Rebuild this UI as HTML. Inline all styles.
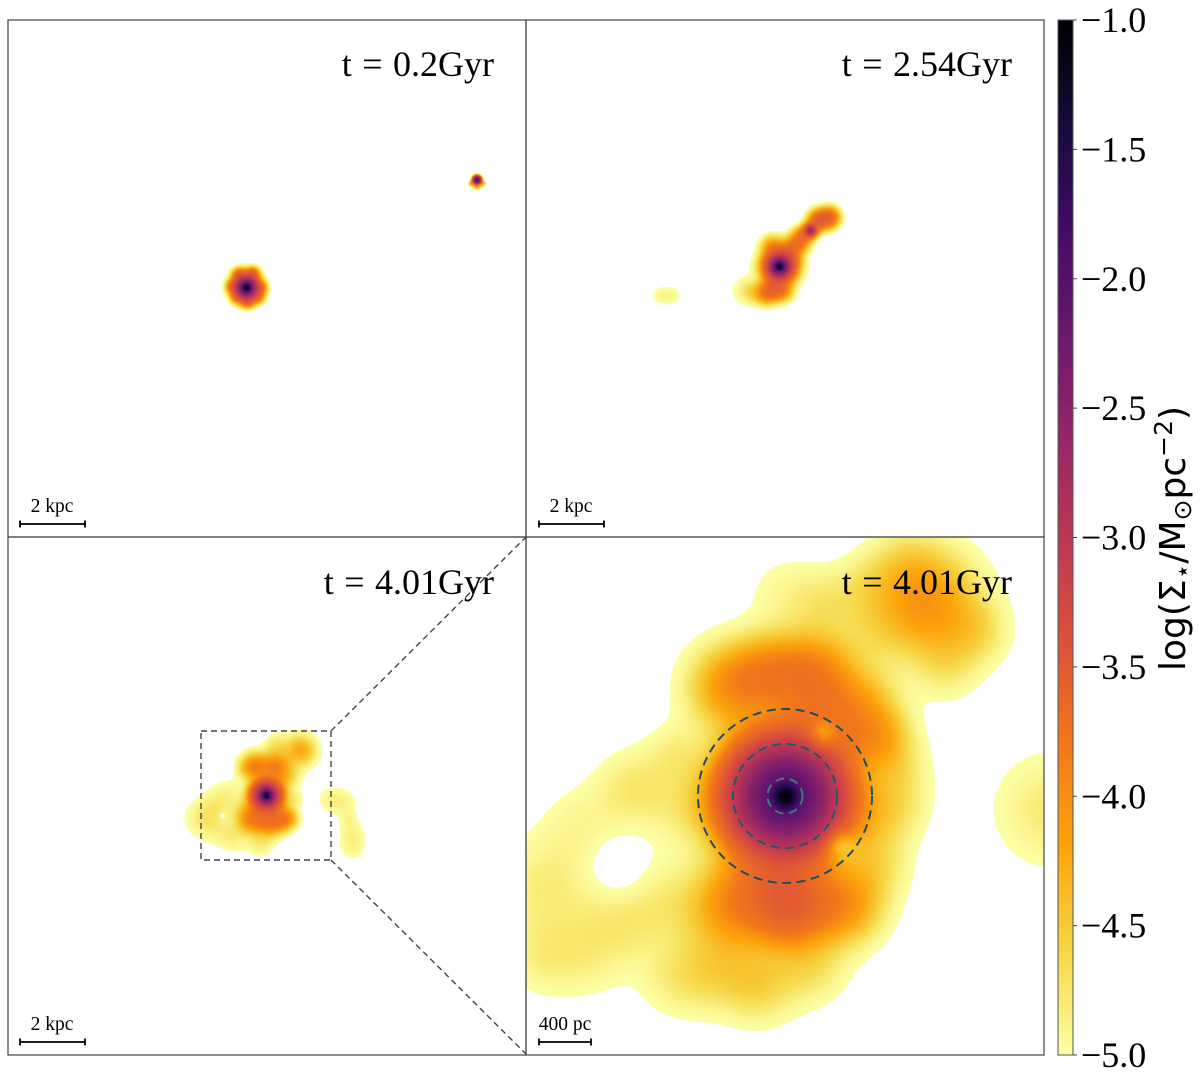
<!DOCTYPE html>
<html lang="en">
<head>
<meta charset="utf-8">
<title>Stellar surface density maps</title>
<style>
html,body{margin:0;padding:0;background:#fff;}
#figure{position:relative;width:1200px;height:1082px;overflow:hidden;background:#fff;}
canvas{position:absolute;display:block;}
svg{position:absolute;left:0;top:0;}
.time{font-family:"Liberation Serif",serif;font-size:36px;word-spacing:1.5px;fill:#000;text-anchor:end;}
.scale{font-family:"Liberation Serif",serif;font-size:19.5px;fill:#000;text-anchor:middle;}
.tick{font-family:"Liberation Serif",serif;font-size:36px;fill:#000;}
.cblabel{font-family:"DejaVu Sans",sans-serif;font-size:36px;fill:#000;}
</style>
</head>
<body>
<div id="figure">
<canvas id="p1" width="518" height="517" style="left:8px;top:20px"></canvas>
<canvas id="p2" width="518" height="517" style="left:526px;top:20px"></canvas>
<canvas id="p3" width="518" height="518" style="left:8px;top:537px"></canvas>
<canvas id="p4" width="518" height="518" style="left:526px;top:537px"></canvas>
<canvas id="cbar" width="15" height="1035" style="left:1058px;top:20px"></canvas>
<svg id="overlay" width="1200" height="1082" viewBox="0 0 1200 1082">
  <g fill="none" stroke="#444" stroke-width="1.2">
    <rect x="8" y="20" width="518" height="517"/>
    <rect x="526" y="20" width="518" height="517"/>
    <rect x="8" y="537" width="518" height="518"/>
    <rect x="526" y="537" width="518" height="518"/>
  </g>
  <g fill="none" stroke="#444" stroke-width="1.4" stroke-dasharray="6 4">
    <rect x="201" y="731" width="130" height="129"/>
    <line x1="331" y1="731" x2="526" y2="537"/>
    <line x1="331" y1="860" x2="526" y2="1054"/>
  </g>
  <g fill="none" stroke-width="2" stroke-dasharray="9 5.5">
    <circle cx="785" cy="796" r="17.5" stroke="#3c7a78"/>
    <circle cx="785" cy="796" r="52" stroke="#24566a"/>
    <circle cx="785" cy="796" r="87" stroke="#1f4d60"/>
  </g>
  <text class="time" x="494" y="76">t = 0.2Gyr</text>
  <text class="time" x="1012" y="76">t = 2.54Gyr</text>
  <text class="time" x="494" y="594">t = 4.01Gyr</text>
  <text class="time" x="1012" y="594">t = 4.01Gyr</text>
  <g>
    <text class="scale" x="52" y="512">2 kpc</text>
    <path d="M20 524H85M20 520.5V527.5M85 520.5V527.5" stroke="#000" stroke-width="1.8" fill="none"/>
  </g>
  <g>
    <text class="scale" x="571" y="512">2 kpc</text>
    <path d="M539 524H604M539 520.5V527.5M604 520.5V527.5" stroke="#000" stroke-width="1.8" fill="none"/>
  </g>
  <g>
    <text class="scale" x="52" y="1030">2 kpc</text>
    <path d="M20 1042H85M20 1038.5V1045.5M85 1038.5V1045.5" stroke="#000" stroke-width="1.8" fill="none"/>
  </g>
  <g>
    <text class="scale" x="565" y="1030">400 pc</text>
    <path d="M539 1042H591M539 1038.5V1045.5M591 1038.5V1045.5" stroke="#000" stroke-width="1.8" fill="none"/>
  </g>
  <rect x="1058" y="20" width="15" height="1035" fill="none" stroke="#555" stroke-width="1"/>
  <g id="cbticks"></g>
  <text class="cblabel" transform="translate(1185 671) rotate(-90)">log(Σ<tspan font-size="25" dy="6">⋆</tspan><tspan dy="-6">/M</tspan><tspan font-size="25" dy="6">⊙</tspan><tspan dy="-6">pc</tspan><tspan font-size="25" dy="-13">−2</tspan><tspan dy="13">)</tspan></text>
</svg>
</div>
<script>
// Colorbar data
const tickValues = [-1.0, -1.5, -2.0, -2.5, -3.0, -3.5, -4.0, -4.5, -5.0];
const vmin = -5;
const vmax = -1;
const cmapStops = ['#000004','#160b39','#420a68','#6a176e','#932667','#bc3754','#dd513a','#f37819','#fca50a','#f6d746','#fcffa4'];

// Density blobs: [x, y, sigma, log10 peak]
const blobsTopLeft = [
  [238,267,1.6,-1.15],[238,267,4,-1.95],[238,267,6,-2.9],[238,267,9,-3.6],
  [231,255,4.2,-3.6],[244,254,4.2,-3.6],[251,267,4.2,-3.7],[239,280,4.2,-3.6],[225,266,4.2,-3.7],[249,276,4,-3.75],[229,276,4,-3.75],
  [468.5,159.5,1.7,-2.0],[468.5,159.5,2.3,-3.0],[463,163,1.9,-4.0],[474,163,1.9,-4.0],[468.5,166,2.1,-4.0]
];
const blobsTopRight = [
  [253,246,1.7,-1.15],[253,246,4,-1.95],[253,246,7.5,-2.9],[253,246,12,-3.7],
  [246,226,7,-4.0],[262,232,7,-3.9],[272,222,7,-3.8],[278,214,6,-3.9],[262,240,7,-4.0],
  [284,210,2.6,-2.9],[284,210,4.5,-3.5],[292,200,6.5,-3.6],[303,197,6.5,-3.65],
  [241,273,7,-3.8],[255,270,7,-3.85],[247,265,6,-3.9],[217,270,9,-4.7],[228,272,8,-4.4],
  [134,275,6.5,-4.75],[146,275,6.5,-4.75]
];
const blobsBottomLeft = [
  [258,258,1.5,-1.15],[258,258,3.6,-2.0],[258,258,7.5,-2.8],[258,258,10,-3.7],
  [247,229,9,-3.9],[267,229,9,-3.9],[238,230,7,-4.6],
  [292,213,10.5,-4.05],[268,208,8,-4.5],[278,240,9,-4.3],[286,262,6,-4.6],[280,282,7,-4.4],
  [244,282,9,-3.9],[262,284,9,-3.8],[275,280,8,-4.0],
  [219,258,12,-4.7],[192,280,12,-4.65],[205,290,12,-4.7],[205,268,10,-4.75],[225,300,10,-4.6],[252,306,9,-4.55],[238,275,10,-4.5],
  [322,262,9,-4.7],[336,265,9,-4.7],[340,282,6,-4.8],[344,295,9,-4.7],[344,310,9,-4.7]
];
const blobsZoom = [
  [259,259,6,-1.1],[259,259,20,-2.0],[259,259,32,-2.7],
  [400,67,35,-3.95],[450,95,22,-4.5],[420,130,22,-4.6],[345,90,25,-4.7],[340,45,20,-4.7],[380,25,24,-4.6],[260,57,27,-4.75],[300,65,22,-4.6],
  [205,150,28,-3.95],[285,140,28,-3.8],[240,135,24,-4.05],[335,165,24,-4.2],[350,200,22,-4.05],[300,190,24,-4.0],
  [367,265,24,-4.55],[370,230,22,-4.6],[345,285,26,-4.45],[350,330,22,-4.5],
  [263,367,26,-3.6],[317,367,26,-3.95],[207,367,28,-3.95],[245,335,28,-4.1],
  [233,447,26,-4.35],[285,430,24,-4.45],[150,443,25,-4.65],[190,430,28,-4.4],
  [110,250,26,-4.5],[150,215,20,-4.65],[170,270,28,-4.5],[60,290,30,-4.7],
  [20,350,35,-4.55],[60,417,30,-4.7],[15,420,26,-4.7],[133,367,33,-4.55],[90,385,28,-4.75],
  [525,272,38,-4.5]
];
// Low-density pockets: [x, y, sigma, depth]
const dipsZoom = [[92,328,24,0.93],[296,197,12,0.6],[313,307,12,0.6]];
const dipsBottomLeft = [[214,278,2.2,0.8]];
const dipsNone = [];

function hexRgb(h){return [parseInt(h.slice(1,3),16),parseInt(h.slice(3,5),16),parseInt(h.slice(5,7),16)];}
const cmapRgb = cmapStops.map(hexRgb);
function inferno(t){
  const f=Math.min(1,Math.max(0,t))*(cmapRgb.length-1);
  const i=Math.min(cmapRgb.length-2,Math.floor(f));
  const u=f-i;
  return [0,1,2].map(function(c){return cmapRgb[i][c]*(1-u)+cmapRgb[i+1][c]*u;});
}
function colorOf(v){return inferno((vmax-v)/(vmax-vmin));}
function tone(v){
  const u=v-vmin;
  const knee=1.2;
  return u<knee ? vmin+u*u/knee : v;
}

function drawMap(id,blobs,dips){
  const cv=document.getElementById(id);
  const ctx=cv.getContext('2d');
  const W=cv.width,H=cv.height;
  const img=ctx.createImageData(W,H);
  const amps=blobs.map(function(b){return Math.pow(10,b[3]);});
  for(let y=0;y<H;y++){
    for(let x=0;x<W;x++){
      let s=0;
      for(let k=0;k<blobs.length;k++){
        const b=blobs[k];
        const dx=x-b[0],dy=y-b[1];
        const e=(dx*dx+dy*dy)/(2*b[2]*b[2]);
        if(e<30)s+=amps[k]*Math.exp(-e);
      }
      for(let k=0;k<dips.length;k++){
        const d=dips[k];
        const dx=x-d[0],dy=y-d[1];
        s*=1-d[3]*Math.exp(-(dx*dx+dy*dy)/(2*d[2]*d[2]));
      }
      const o=(y*W+x)*4;
      if(s>0&&Math.log10(s)>=vmin){
        const c=colorOf(tone(Math.min(vmax,Math.log10(s))));
        img.data[o]=c[0];img.data[o+1]=c[1];img.data[o+2]=c[2];img.data[o+3]=255;
      }else{
        img.data[o]=255;img.data[o+1]=255;img.data[o+2]=255;img.data[o+3]=255;
      }
    }
  }
  ctx.putImageData(img,0,0);
}
drawMap('p1',blobsTopLeft,dipsNone);
drawMap('p2',blobsTopRight,dipsNone);
drawMap('p3',blobsBottomLeft,dipsBottomLeft);
drawMap('p4',blobsZoom,dipsZoom);

// Colorbar
(function(){
  const cv=document.getElementById('cbar');
  const ctx=cv.getContext('2d');
  for(let y=0;y<cv.height;y++){
    const c=inferno(y/(cv.height-1));
    ctx.fillStyle='rgb('+Math.round(c[0])+','+Math.round(c[1])+','+Math.round(c[2])+')';
    ctx.fillRect(0,y,cv.width,1);
  }
  const NS='http://www.w3.org/2000/svg';
  const g=document.getElementById('cbticks');
  function yOf(v){return 20+1035*(vmax-v)/(vmax-vmin);}
  tickValues.forEach(function(v){
    const y=yOf(v);
    const ln=document.createElementNS(NS,'line');
    ln.setAttribute('x1',1073);ln.setAttribute('x2',1077);
    ln.setAttribute('y1',y);ln.setAttribute('y2',y);
    ln.setAttribute('stroke','#444');ln.setAttribute('stroke-width','1');
    
    
    g.appendChild(ln);
    const t=document.createElementNS(NS,'text');
    t.setAttribute('class','tick');
    t.setAttribute('x',1081);
    t.setAttribute('y',y+12);
    t.textContent='\u2212'+Math.abs(v).toFixed(1);
    
    
    g.appendChild(t);
  });
})();
</script>
</body>
</html>
